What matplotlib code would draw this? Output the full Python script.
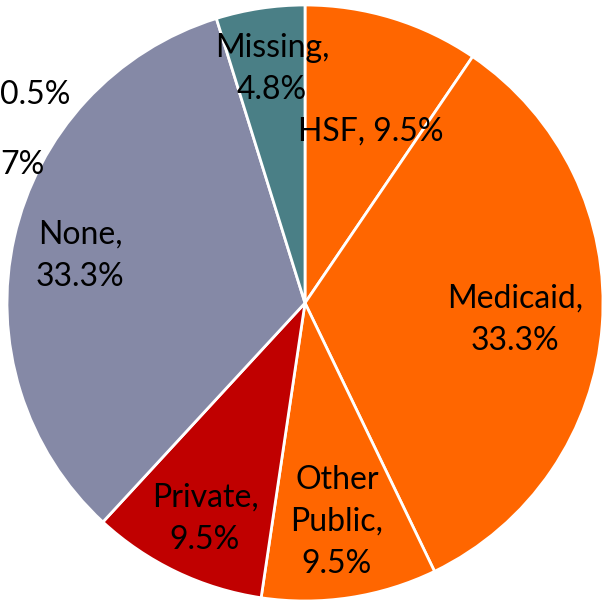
import matplotlib
matplotlib.use("Agg")
import matplotlib.pyplot as plt

labels = ["HSF", "Medicaid", "Other Public", "Private", "None", "Missing"]
shares = [9.5, 33.3, 9.5, 9.5, 33.3, 4.8]
colors = ["#FF6600", "#FF6600", "#FF6600", "#C00000", "#8589A6", "#4A7F86"]
label_text = ["HSF, 9.5%", "Medicaid,\n33.3%", "Other\nPublic,\n9.5%",
              "Private,\n9.5%", "None,\n33.3%", "Missing,\n4.8%"]
# label positions in pixels of the 606x606 image
label_px = [(371, 132), (515, 320), (337, 522), (205, 519), (80, 256), (272, 69)]

plt.rcParams['font.family'] = ['Lato', 'DejaVu Sans']

fig = plt.figure(figsize=(6.06, 6.06), dpi=100)
ax = fig.add_axes([0, 0, 1, 1])

cx, cy, r = 305, 303, 298
ax.pie(shares, colors=colors, startangle=90, counterclock=False,
       radius=1, center=(0, 0),
       wedgeprops=dict(edgecolor="white", linewidth=2))

for txt, (px, py) in zip(label_text, label_px):
    ax.text((px - cx) / r, (cy - py) / r, txt, ha="center", va="center",
            fontsize=23, color="black", linespacing=1.5)

ax.set_xlim(-cx / r, (606 - cx) / r)
ax.set_ylim(-(606 - cy) / r, cy / r)
ax.set_aspect("equal")
ax.axis("off")

# remains of labels from a neighbouring chart at the left edge
fig.text(0, 1 - 95 / 606, "0.5%", ha="left", va="center", fontsize=23)
fig.text(0, 1 - 165 / 606, "7%", ha="left", va="center", fontsize=23)

fig.savefig("out.png", dpi=100)
